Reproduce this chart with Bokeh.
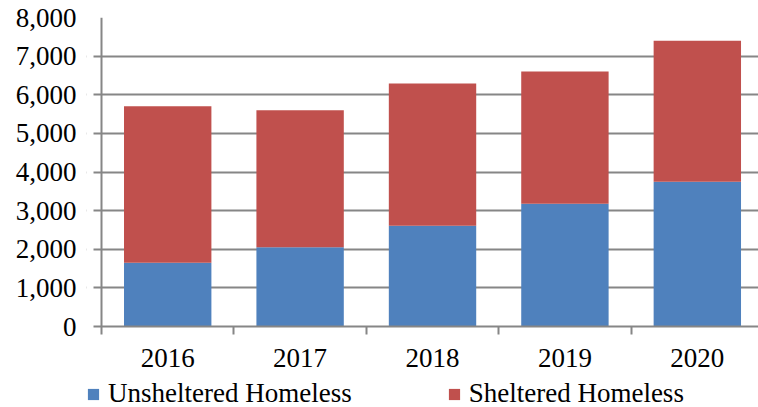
from bokeh.plotting import figure
from bokeh.models import (Range1d, FixedTicker, NumeralTickFormatter, Legend, LegendItem,
                          ColumnDataSource, Span, BoxAnnotation)
from bokeh.layouts import column
from bokeh.embed import file_html
from bokeh.resources import INLINE

years = ["2016", "2017", "2018", "2019", "2020"]
unsheltered = [1650, 2050, 2610, 3180, 3750]
sheltered = [4050, 3550, 3680, 3420, 3650]
series_names = ["Unsheltered Homeless", "Sheltered Homeless"]
series_colors = ["#4F81BD", "#C0504D"]
y_ticks = [0, 1000, 2000, 3000, 4000, 5000, 6000, 7000, 8000]

xs = [i + 0.5 for i in range(len(years))]
tops1 = unsheltered
tops2 = [a + b for a, b in zip(unsheltered, sheltered)]
src = ColumnDataSource(dict(x=xs, u=tops1, t=tops2, zero=[0] * len(xs)))

FONT = "Liberation Serif"
GRID = "#868686"
X_START = -0.1133   # frame starts 15px left of the value axis (room for legend swatch)
TICK_START = -0.0604  # y tick marks reach 8px left of the value axis
X_END = 4.962

p = figure(width=758, height=376, output_backend="svg", toolbar_location=None,
           x_range=Range1d(X_START, X_END), y_range=Range1d(0, 8000),
           min_border_left=86, min_border_right=0, min_border_top=17, min_border_bottom=50)
p.outline_line_color = None
p.background_fill_color = "white"
p.border_fill_color = "white"

r1 = p.vbar(x="x", bottom="zero", top="u", width=0.66, source=src,
            fill_color=series_colors[0], line_color=None)
r2 = p.vbar(x="x", bottom="u", top="t", width=0.66, source=src,
            fill_color=series_colors[1], line_color=None)

# y axis (line drawn as a span at x=0; grid lines extend left as tick marks)
p.yaxis.ticker = FixedTicker(ticks=y_ticks)
p.yaxis.formatter = NumeralTickFormatter(format="0,0")
p.yaxis.axis_line_color = None
p.yaxis.major_tick_line_color = None
p.yaxis.major_tick_out = 0
p.yaxis.major_tick_in = 0
p.yaxis.minor_tick_line_color = None
p.yaxis.major_label_text_font = FONT
p.yaxis.major_label_text_font_size = "27px"
p.yaxis.major_label_text_color = "black"
p.yaxis.major_label_standoff = 10

# x axis
p.xaxis.ticker = FixedTicker(ticks=xs, minor_ticks=list(range(len(years) + 1)))
p.xaxis.major_label_overrides = {x: y for x, y in zip(xs, years)}
p.xaxis.bounds = (TICK_START, X_END)
p.xaxis.axis_line_color = GRID
p.xaxis.axis_line_width = 2
p.xaxis.major_tick_line_color = None
p.xaxis.major_tick_out = 0
p.xaxis.major_tick_in = 0
p.xaxis.minor_tick_line_color = GRID
p.xaxis.minor_tick_line_width = 2
p.xaxis.minor_tick_out = 8
p.xaxis.minor_tick_in = 0
p.xaxis.major_label_text_font = FONT
p.xaxis.major_label_text_font_size = "27px"
p.xaxis.major_label_text_color = "black"
p.xaxis.major_label_standoff = 14

p.xgrid.grid_line_color = None
p.ygrid.grid_line_color = GRID
p.ygrid.grid_line_width = 2
p.ygrid.ticker = FixedTicker(ticks=y_ticks)

# blank out the grid left of the tick marks
p.add_layout(BoxAnnotation(right=TICK_START, fill_color="white", fill_alpha=1,
                           line_color=None, level="underlay"))
# value axis line
p.add_layout(Span(location=0, dimension="height", line_color=GRID, line_width=2))

# legend strip below
p2 = figure(width=758, height=31, output_backend="svg", toolbar_location=None,
            x_range=Range1d(0, 1), y_range=Range1d(0, 1),
            x_axis_location=None, y_axis_location=None,
            min_border_left=86, min_border_right=0, min_border_top=0, min_border_bottom=0)
p2.grid.visible = False
p2.outline_line_color = None
p2.background_fill_color = "white"
p2.border_fill_color = "white"
hidden = ColumnDataSource(dict(x=[-5], top=[-5]))
l1 = p2.vbar(x="x", top="top", width=0.1, source=hidden, fill_color=series_colors[0], line_color=None)
l2 = p2.vbar(x="x", top="top", width=0.1, source=hidden, fill_color=series_colors[1], line_color=None)

legend = Legend(items=[LegendItem(label=series_names[0], renderers=[l1]),
                       LegendItem(label=series_names[1], renderers=[l2])],
                orientation="horizontal", location=(0, -2),
                label_text_font=FONT, label_text_font_size="27px",
                label_text_color="black",
                glyph_width=14, glyph_height=14, label_standoff=8,
                spacing=95, padding=0, margin=0,
                border_line_color=None, background_fill_alpha=0)
p2.add_layout(legend, "center")

layout = column(p, p2, spacing=0)
open("out.html", "w").write(file_html(layout, INLINE))
